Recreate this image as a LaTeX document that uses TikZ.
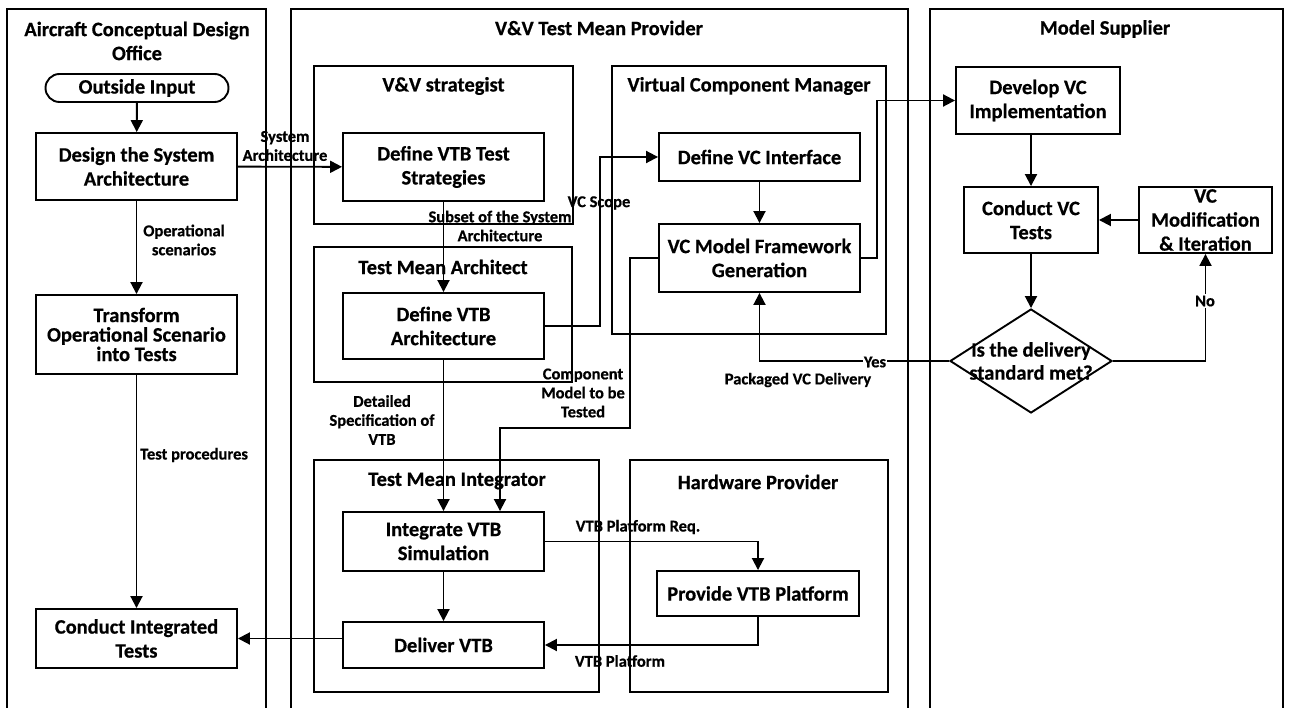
\documentclass[tikz,border=0pt]{standalone}
\usepackage{fontspec}
\setmainfont{Carlito}[BoldFeatures={FakeBold=0.6}]
\usetikzlibrary{shapes.geometric,arrows.meta}
\begin{document}
\begin{tikzpicture}[x=1pt,y=-1pt,
  every node/.style={font=\bfseries\fontsize{20.5}{24}\selectfont, inner sep=0pt},
  box/.style={draw, line width=1.9pt, align=center},
  cont/.style={draw, line width=1.9pt},
  lbl/.style={font=\bfseries\fontsize{16.5}{19}\selectfont, align=center},
  ttl/.style={align=center},
  arr/.style={line width=1.9pt, -{Triangle[length=12pt,width=12pt]}},
  ln/.style={line width=1.9pt}
]
\useasboundingbox (0,0) rectangle (1290,708);
\fill[white] (0,0) rectangle (1290,708);
% lanes
\draw[ln] (7,712) -- (7,9) -- (266,9) -- (266,712);
\draw[ln] (291,712) -- (291,9) -- (908,9) -- (908,712);
\draw[ln] (930,712) -- (930,9) -- (1283,9) -- (1283,712);
\node[ttl] (t1) at (137,41) {Aircraft Conceptual Design\\Office};
\node[ttl] (t2) at (599,28) {V\&V Test Mean Provider};
\node[ttl] (t3) at (1105,29) {Model Supplier};

% containers
\node[cont, minimum width=259pt, minimum height=158pt] (strat) at (443.5,145) {};
\node (stratT) at (443.5,86) {V\&V strategist};
\node[cont, minimum width=258pt, minimum height=135pt] (archC) at (443,314.5) {};
\node (archT) at (443,267) {Test Mean Architect};
\node[cont, minimum width=274pt, minimum height=268pt] (vcm) at (749,200) {};
\node (vcmT) at (749,86) {Virtual Component Manager};
\node[cont, minimum width=285pt, minimum height=232pt] (integ) at (456.5,576) {};
\node (integT) at (457,481) {Test Mean Integrator};
\node[cont, minimum width=258pt, minimum height=232pt] (hw) at (759,576) {};
\node (hwT) at (758,482) {Hardware Provider};

% lane 1
\node[box, rounded corners=14pt, minimum width=183pt, minimum height=28pt] (outside) at (137,88) {Outside Input};
\node[box, minimum width=201pt, minimum height=67pt] (design) at (136.5,166.5) {Design the System\\Architecture};
\node[box, minimum width=201pt, minimum height=79pt, font=\bfseries\fontsize{20.5}{19.5}\selectfont] (transform) at (136.5,334.5) {Transform\\Operational Scenario\\into Tests};
\node[box, minimum width=201pt, minimum height=59pt] (cit) at (136.5,638.5) {Conduct Integrated\\Tests};

% lane 2
\node[box, minimum width=201pt, minimum height=68pt] (dvts) at (443.5,167) {Define VTB Test\\Strategies};
\node[box, minimum width=201pt, minimum height=66pt] (dva) at (443.5,326) {Define VTB\\Architecture};
\node[box, minimum width=201pt, minimum height=48pt] (dvci) at (759.5,157) {Define VC Interface};
\node[box, minimum width=201pt, minimum height=68pt] (vcmfg) at (759.5,258) {VC Model Framework\\Generation};
\node[box, minimum width=201pt, minimum height=59pt] (ivs) at (443.5,541.5) {Integrate VTB\\Simulation};
\node[box, minimum width=202pt, minimum height=45pt] (pvp) at (758,593.5) {Provide VTB Platform};
\node[box, minimum width=201pt, minimum height=46pt] (dv) at (443.5,645) {Deliver VTB};

% lane 3
\node[box, minimum width=164pt, minimum height=67pt] (dvi) at (1038,100.5) {Develop VC\\Implementation};
\node[box, minimum width=134pt, minimum height=66pt] (cvt) at (1031,220) {Conduct VC\\Tests};
\node[box, minimum width=133pt, minimum height=66pt, font=\bfseries\fontsize{20.5}{24}\selectfont] (vcmi) at (1205.5,220) {VC\\Modification\\\& Iteration};
\node[draw, line width=1.9pt, diamond, minimum width=162pt, minimum height=104pt] (dia) at (1031,361) {};
\node[align=center, font=\bfseries\fontsize{20.5}{23}\selectfont] (diaT) at (1031,361) {Is the delivery\\standard met?};

% connectors
\draw[arr] (outside) -- (design);
\draw[arr] (design) -- (dvts);
\node[lbl] (l1) at (285,146) {System\\Architecture};
\draw[arr] (design) -- (transform);
\node[lbl] (l2) at (184,240) {Operational\\scenarios};
\draw[arr] (transform) -- (cit);
\node[lbl, anchor=west] (l3) at (140,455) {Test procedures};
\draw[arr] (dv.west |- cit.east) -- (cit.east);

\draw[arr] (dvts) -- (dva);
\node[lbl] (l4) at (500,226) {Subset of the System\\Architecture};
\draw[arr] (dva.east) -- ++(55,0) |- (dvci.west);
\node[lbl] (l5) at (599,203) {VC Scope};
\draw[arr] (dvci) -- (vcmfg);
\coordinate (c1) at (500,428);
\draw[arr] (vcmfg.west) -- ++(-28,0) |- (c1) -- (c1 |- ivs.north);
\node[lbl] (l6) at (583,393) {Component\\Model to be\\Tested};
\draw[arr] (dva) -- (ivs);
\node[lbl] (l7) at (382,420) {Detailed\\Specification of\\VTB};
\draw[arr] (vcmfg.east) -- ++(16,0) |- (dvi.west);
\draw[arr] (dia.west) -| (vcmfg.south);
\node[lbl, fill=white, inner xsep=1pt] (l8) at (875,362) {Yes};
\node[lbl] (l9) at (798,380) {Packaged VC Delivery};

\draw[arr] (cvt.north |- dvi.south) -- (cvt.north);
\draw[arr] (cvt) -- (dia);
\draw[arr] (vcmi) -- (cvt);
\draw[arr] (dia.east) -| (vcmi.south);
\node[lbl, fill=white, inner ysep=2pt] (l10) at (1205,301) {No};

\draw[arr] (ivs.east) -| (pvp.north);
\node[lbl] (l11) at (638,527) {VTB Platform Req.};
\draw[arr] (pvp.south) |- (dv.east);
\node[lbl] (l12) at (620,661) {VTB Platform};
\draw[arr] (ivs) -- (dv);
\end{tikzpicture}
\end{document}
